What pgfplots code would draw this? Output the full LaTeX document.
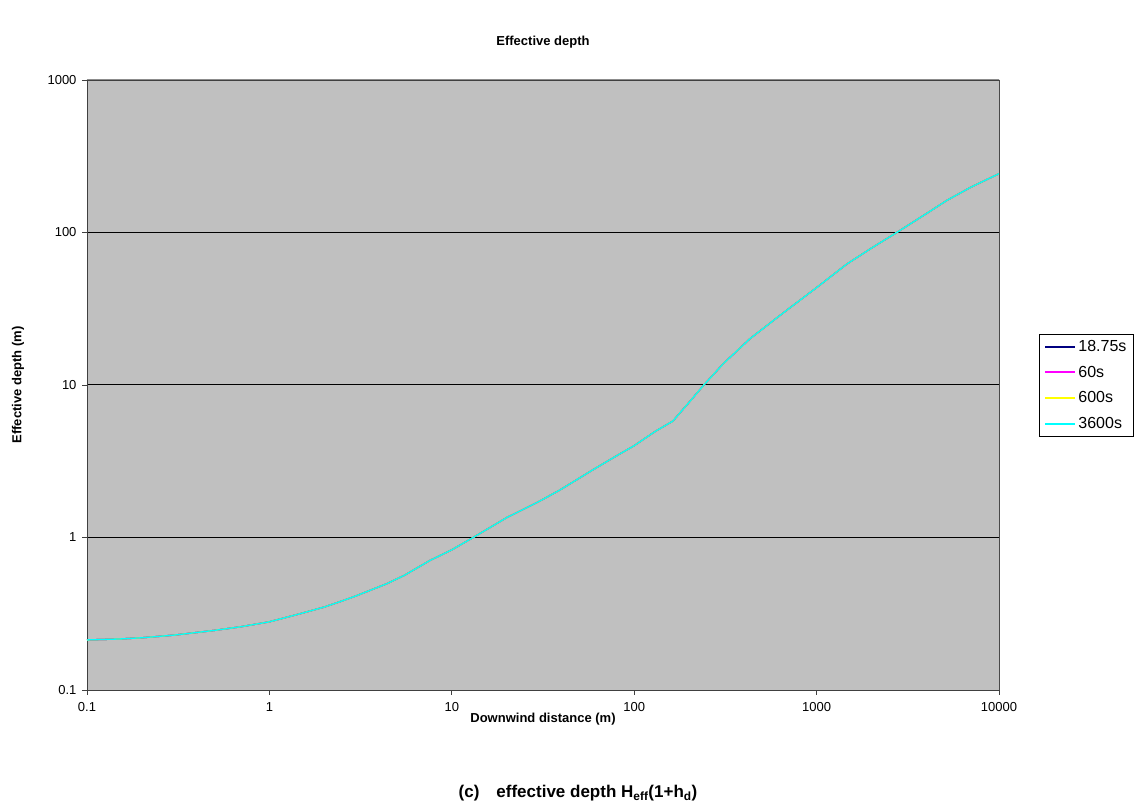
\documentclass[border=0pt]{standalone}
\usepackage{pgfplots}
\pgfplotsset{compat=1.18}
\usepackage{pgfplotstable}
\usepackage{fontspec}
\setmainfont{Liberation Sans}
\definecolor{plotbg}{HTML}{C0C0C0}
\definecolor{sNavy}{HTML}{000080}
\definecolor{sMag}{HTML}{FF00FF}
\definecolor{sYel}{HTML}{FFFF00}
\definecolor{sCyan}{HTML}{00FFFF}

\pgfplotstableread{
x y
0.1 0.213
0.15 0.216
0.2 0.220
0.3 0.229
0.5 0.246
0.7 0.260
1 0.280
1.47 0.316
2 0.350
2.54 0.386
3 0.415
4.39 0.497
5.5 0.565
7.59 0.707
10 0.83
13.1 1.0
20 1.35
30 1.72
39.2 2.05
60 2.8
83.6 3.54
100 4.0
130 4.95
163 5.8
200 7.7
241 10.0
308 13.8
431 20.1
630 28.6
811 36
1000 43.5
1462 62
2000 79
2750 100
4000 133
5164 162
7000 198
10000 243
}\depthdata

\begin{document}
\begin{tikzpicture}[x=1pt,y=1pt]
\path[use as bounding box] (0,0) rectangle (1141,809);
\begin{axis}[
  at={(87pt,119pt)}, anchor=south west,
  scale only axis, width=912pt, height=610pt,
  xmode=log, ymode=log,
  xmin=0.1, xmax=10000, ymin=0.1, ymax=1000,
  axis background/.style={fill=plotbg},
  axis line style={draw=black!75},
  xtick={0.1,1,10,100,1000,10000},
  xticklabels={0.1,1,10,100,1000,10000},
  ytick={0.1,1,10,100,1000},
  yticklabels={0.1,1,10,100,1000},
  xminorticks=false, yminorticks=false,
  xtick pos=bottom, ytick pos=left,
  tick align=outside, major tick length=5pt,
  tick style={black!75, line width=0.8pt},
  ymajorgrids, major grid style={black, line width=1pt},
  ticklabel style={font=\fontsize{13}{15}\selectfont},
  xticklabel style={yshift=-4pt},
  yticklabel style={xshift=-2pt},
  /pgf/number format/assume math mode=true,
  xlabel={\textbf{Downwind distance (m)}},
  xlabel style={at={(axis description cs:0.5,-0.048)}, anchor=center, font=\fontsize{13}{15}\selectfont},
  ylabel={\textbf{Effective depth (m)}},
  ylabel style={at={(axis description cs:-0.0757,0.5)}, anchor=center, rotate=0, font=\fontsize{13}{15}\selectfont},
  title={\textbf{Effective depth}},
  title style={at={(axis description cs:0.5,1.0525)}, anchor=center, font=\fontsize{13}{15}\selectfont},
  legend style={at={(axis description cs:1.0439,0.5836)}, anchor=north west,
    draw=black, line width=0.8pt, fill=white, font=\fontsize{16}{18}\selectfont,
    row sep=9pt, inner xsep=5pt, inner ysep=4pt, cells={anchor=west}},
  legend image code/.code={\draw[#1, line width=2pt] (0pt,0pt) -- (30pt,0pt);},
  legend cell align=left,
  clip=true,
]
\addplot[sNavy, line width=1.3pt] table[x=x,y=y] {\depthdata};
\addlegendentry{18.75s}
\addplot[sMag, line width=1.3pt] table[x=x,y=y] {\depthdata};
\addlegendentry{60s}
\addplot[sYel, line width=1.3pt] table[x=x,y=y] {\depthdata};
\addlegendentry{600s}
\addplot[sCyan, line width=1.3pt] table[x=x,y=y] {\depthdata};
\addlegendentry{3600s}
\draw[black!45, line width=1pt] (rel axis cs:0,1) -- (rel axis cs:1,1) -- (rel axis cs:1,0);
\end{axis}
\node[font=\fontsize{17}{20}\selectfont\bfseries] at (578,16) {(c)\quad effective depth H\textsubscript{eff}(1+h\textsubscript{d})};
\end{tikzpicture}
\end{document}
